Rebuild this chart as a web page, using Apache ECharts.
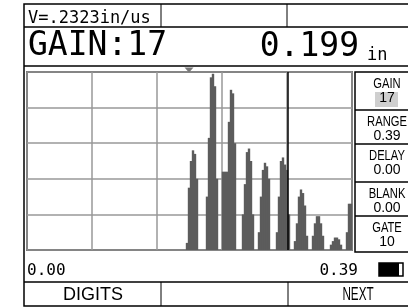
<!DOCTYPE html>
<html>
<head>
<meta charset="utf-8">
<script src="https://cdn.jsdelivr.net/npm/echarts@6/dist/echarts.min.js"></script>
<style>
html, body {margin: 0; padding: 0; background: #fff}
#main {width: 408px; height: 307px}
</style>
</head>
<body>
<div id="main"></div>
<script>
var velocity = 'V=.2323in/us'
var gainText = 'GAIN:17'
var thickness = '0.199'
var unit = 'in'
var rangeLabels = ['0.00', '0.39']
var panelNames = ['GAIN', 'RANGE', 'DELAY', 'BLANK', 'GATE']
var panelValues = ['17', '0.39', '0.00', '0.00', '10']
var buttons = ['DIGITS', 'NEXT']

//echo: first sample index + amplitude (%) of each sample
var echoStart = [80, 90, 98, 108, 116, 125, 134, 143, 152, 160]
var echoAmp = [
	[4, 35, 50, 56, 54, 40],
	[30, 63, 97, 99, 92, 40],
	[44, 44, 44, 72, 90, 88, 60],
	[20, 37, 55, 57, 50, 20],
	[10, 30, 45, 49, 47, 40],
	[10, 30, 50, 52, 48, 45, 20],
	[5, 15, 30, 34, 32, 25, 8],
	[8, 15, 19, 19, 15, 8],
	[3, 5, 7, 7, 6, 3],
	[10, 26, 26]
]
var gateSample = 130.5
var markerSample = 81

var chart = echarts.init(document.getElementById('main'))

var wave = []
for (var x = 0; x < echoStart.length; x++) {
	for (var y = 0; y < echoAmp[x].length; y++) {
		wave.push([echoStart[x] + y, echoAmp[x][y]])
	}
}

var MONO = 'DejaVu Sans Mono'
var SANS = 'Liberation Sans, Arial'

function line(x1, y1, x2, y2, w, color) {
	return {type: 'line', silent: true, shape: {x1: x1, y1: y1, x2: x2, y2: y2},
		style: {stroke: color || '#000', lineWidth: w || 1.5}}
}
function text(str, x, y, font, align, sx) {
	return {type: 'text', silent: true, x: x, y: y, scaleX: sx || 1,
		style: {text: str, font: font, fill: '#000', textAlign: align || 'left', textVerticalAlign: 'middle'}}
}

var g = []
//外框
g.push({type: 'rect', silent: true, shape: {x: 24, y: 4, width: 400, height: 302}, style: {fill: 'none', stroke: '#000', lineWidth: 1.5}})
g.push(line(24, 27, 408, 27))
g.push(line(161, 4, 161, 27, 1))
g.push(line(287, 4, 287, 27, 1))
g.push(line(24, 66, 408, 66))
g.push(line(24, 282, 408, 282))
g.push(line(161, 282, 161, 306, 1))
g.push(line(288, 282, 288, 306, 1))
//右侧面板
var rowTop = [72, 110, 144, 182, 216]
g.push({type: 'rect', silent: true, shape: {x: 355, y: 72, width: 60, height: 180}, style: {fill: 'none', stroke: '#000', lineWidth: 1.5}})
for (var x = 1; x < rowTop.length; x++) {
	g.push(line(355, rowTop[x], 408, rowTop[x]))
}
g.push({type: 'rect', silent: true, shape: {x: 375, y: 92, width: 23, height: 15}, style: {fill: '#cfcfcf'}})
for (var x = 0; x < panelNames.length; x++) {
	g.push(text(panelNames[x], 387, rowTop[x] + 12, '14px ' + SANS, 'center', 0.8))
	g.push(text(panelValues[x], 387, rowTop[x] + 26, '14px ' + SANS, 'center'))
}
//文字
g.push(text(velocity, 28, 19, '17px ' + MONO))
g.push(text(gainText, 28, 46, '33px ' + MONO))
g.push(text(thickness, 359, 47, '33px ' + MONO, 'right'))
g.push(text(unit, 367, 56, '17px ' + MONO))
g.push(text(rangeLabels[0], 27, 271, '16px ' + MONO))
g.push(text(rangeLabels[1], 358, 271, '16px ' + MONO, 'right'))
g.push(text(buttons[0], 93, 295, '18px ' + SANS, 'center'))
g.push(text(buttons[1], 358, 295, '18px ' + SANS, 'center', 0.65))
//电池
g.push({type: 'rect', silent: true, shape: {x: 379, y: 263, width: 24, height: 13}, style: {fill: '#fff', stroke: '#000', lineWidth: 1.5}})
g.push({type: 'rect', silent: true, shape: {x: 379, y: 263, width: 20, height: 13}, style: {fill: '#000'}})

chart.setOption({
	animation: false,
	grid: {left: 27, top: 72, width: 325, height: 178, show: true, borderColor: '#111', borderWidth: 1.5},
	xAxis: {
		type: 'value', min: 0, max: 162.5, interval: 32.5,
		axisLine: {show: false}, axisTick: {show: false}, axisLabel: {show: false},
		splitLine: {lineStyle: {color: '#999', width: 1.5}}
	},
	yAxis: {
		type: 'value', min: 0, max: 100, interval: 20,
		axisLine: {show: false}, axisTick: {show: false}, axisLabel: {show: false},
		splitLine: {lineStyle: {color: '#999', width: 1.5}}
	},
	series: [{
		type: 'bar',
		data: wave,
		barWidth: 2.4,
		itemStyle: {color: '#5c5c5c'},
		silent: true,
		markLine: {
			silent: true, symbol: 'none', label: {show: false},
			lineStyle: {color: '#000', width: 1.5, type: 'solid'},
			data: [{xAxis: gateSample}]
		},
		markPoint: {
			silent: true, label: {show: false},
			itemStyle: {color: '#777'},
			data: [{coord: [markerSample, 100], symbol: 'triangle', symbolSize: [9, 5], symbolRotate: 180, symbolOffset: [0, -2]}]
		}
	}],
	graphic: g
})
</script>
</body>
</html>
